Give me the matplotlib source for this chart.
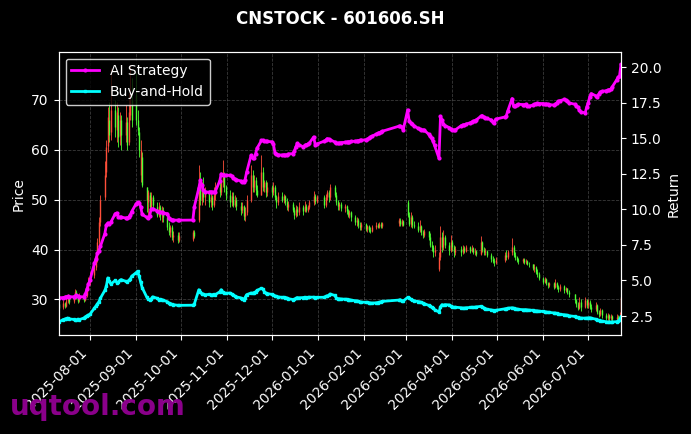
import matplotlib
matplotlib.use("Agg")
import matplotlib.pyplot as plt
import matplotlib.dates as mdates
import numpy as np
import pandas as pd

title = "CNSTOCK - 601606.SH"

# trading calendar (weekdays minus exchange holidays)
holidays = [
    "2025-10-01", "2025-10-02", "2025-10-03", "2025-10-06", "2025-10-07", "2025-10-08",
    "2026-01-01", "2026-01-02",
    "2026-02-16", "2026-02-17", "2026-02-18", "2026-02-19", "2026-02-20", "2026-02-23",
    "2026-04-06", "2026-05-01", "2026-05-04", "2026-05-05", "2026-06-19",
]
dates = pd.bdate_range("2025-07-11", "2026-07-23")
dates = dates[~dates.isin(pd.to_datetime(holidays))]

# daily OHLC, one line per month
opens = [
    29.0, 28.4, 29.2, 28.7, 29.6, 30.3, 29.6, 30.2, 31.4, 30.5, 29.8, 30.6, 29.9, 30.8, 32.0,
    33.4, 34.9, 36.5, 38.2, 41.6, 45.5, 50.5, 55.5, 60.8, 66.0, 63.5, 68.0, 64.0, 67.0, 62.8, 66.0, 63.0, 65.5, 61.5, 67.0, 70.0,
    71.0, 66.0, 63.5, 55.0, 58.5, 52.5, 49.5, 51.0, 48.5, 50.5, 48.5, 47.0, 48.5, 47.0, 48.0, 46.5, 44.5, 43.5, 44.5, 42.5, 43.0, 42.0,
    42.2, 43.5, 46.0, 52.5, 50.0, 52.0, 50.5, 51.5, 49.5, 50.5, 49.0, 51.0, 52.5, 51.5, 53.5, 55.0, 52.5,
    51.0, 49.5, 50.8, 49.0, 50.0, 48.8, 48.0, 48.8, 46.8, 47.5, 50.0, 55.0, 52.5, 54.0, 52.0, 51.0, 55.5, 52.5, 53.5, 51.5,
    52.5, 51.5, 52.5, 50.5, 49.5, 50.8, 50.0, 50.8, 49.5, 48.5, 49.2, 48.0, 47.0, 48.2, 47.5, 48.5, 47.8, 48.8, 48.0, 48.6, 49.5, 50.8, 49.8,
    50.5, 49.0, 50.5, 51.5, 50.5, 52.5, 51.0, 49.5, 48.8, 49.2, 48.3, 48.8, 47.8, 47.0, 47.6, 46.5, 45.5, 46.0, 45.0, 44.5,
    45.2, 44.2, 44.8, 44.0, 43.8, 44.5, 45.0, 44.6, 45.2, 44.8, 45.3, 46.0, 45.2, 45.8,
    49.5, 47.0, 45.2, 46.5, 45.0, 44.8, 44.0, 44.8, 43.5, 43.0, 43.8, 42.5, 41.0, 40.5, 39.5, 36.0, 38.5, 42.5, 40.5, 42.5, 41.0, 40.0,
    41.5, 40.5, 39.5, 40.2, 39.5, 40.3, 39.8, 40.5, 39.8, 40.4, 39.6, 39.8, 39.2, 41.5, 40.0, 39.5, 39.8, 39.0, 38.2, 37.8, 37.5,
    38.0, 39.0, 38.5, 39.5, 40.5, 39.0, 38.5, 38.0, 37.8, 38.2, 37.5, 37.8, 37.2, 37.0, 36.2, 36.5, 35.5, 35.0,
    34.2, 33.5, 34.0, 33.2, 32.8, 33.2, 32.5, 33.3, 32.5, 32.0, 32.6, 31.8, 32.2, 31.5, 31.0, 29.8, 29.0, 28.3, 29.5, 28.5, 29.8,
    28.8, 29.5, 28.5, 28.0, 28.8, 27.5, 27.0, 27.8, 26.8, 26.3, 26.8, 26.2, 26.6, 26.0, 26.5, 26.0, 26.8,
]
closes = [
    28.3, 29.3, 28.6, 29.6, 30.4, 29.5, 30.3, 31.5, 30.5, 29.7, 30.6, 29.9, 30.8, 32.0, 33.5,
    34.8, 36.5, 38.0, 41.5, 45.5, 50.0, 55.0, 60.5, 66.5, 63.0, 68.0, 64.5, 67.5, 62.5, 66.0, 63.0, 65.5, 61.0, 67.5, 70.5, 66.0,
    66.0, 64.0, 60.0, 60.0, 53.0, 50.0, 51.5, 48.5, 50.5, 49.0, 47.0, 48.8, 47.0, 48.0, 46.5, 44.5, 43.5, 44.5, 42.5, 43.0, 42.0, 42.8,
    43.5, 42.8, 52.5, 50.0, 52.0, 50.5, 51.5, 49.5, 50.5, 49.0, 51.0, 52.5, 51.5, 53.5, 55.0, 52.5, 51.0,
    49.5, 50.8, 49.0, 50.0, 48.8, 48.0, 48.8, 46.8, 47.5, 50.0, 55.0, 52.5, 54.0, 52.0, 51.0, 55.5, 52.5, 53.5, 51.5, 52.5,
    51.5, 52.5, 50.5, 49.5, 50.8, 50.0, 50.8, 49.5, 48.5, 49.2, 48.0, 47.0, 48.2, 47.5, 48.5, 47.8, 48.8, 48.0, 48.6, 49.5, 50.8, 49.8, 50.5,
    49.0, 50.5, 51.5, 50.5, 52.5, 51.0, 49.5, 48.8, 49.2, 48.3, 48.8, 47.8, 47.0, 47.6, 46.5, 45.5, 46.0, 45.0, 44.5, 45.2,
    44.2, 44.8, 44.0, 43.8, 44.5, 45.0, 44.6, 45.2, 44.8, 45.3, 46.0, 45.2, 45.8, 45.0,
    47.0, 45.2, 46.5, 45.0, 44.8, 44.0, 44.8, 43.5, 43.0, 43.8, 42.5, 41.0, 40.5, 39.5, 40.0, 38.5, 42.5, 40.5, 42.5, 41.0, 40.0, 41.5,
    40.5, 39.5, 40.2, 39.5, 40.3, 39.8, 40.5, 39.8, 40.4, 39.6, 39.8, 39.2, 41.5, 40.0, 39.5, 39.8, 39.0, 38.2, 37.8, 37.5, 38.0,
    39.0, 38.5, 39.5, 40.5, 39.0, 38.5, 38.0, 37.8, 38.2, 37.5, 37.8, 37.2, 37.0, 36.2, 36.5, 35.5, 35.0, 34.2,
    33.5, 34.0, 33.2, 32.8, 33.2, 32.5, 33.3, 32.5, 32.0, 32.6, 31.8, 32.2, 31.5, 31.0, 29.8, 29.0, 28.3, 29.5, 28.5, 29.8, 28.8,
    29.5, 28.5, 28.0, 28.8, 27.5, 27.0, 27.8, 26.8, 26.3, 26.8, 26.2, 26.6, 26.0, 26.5, 26.0, 26.8, 30.5,
]
highs = [
    29.6, 29.8, 29.5, 30.2, 31.0, 30.6, 30.9, 32.0, 31.8, 30.8, 31.2, 31.0, 31.4, 32.6, 34.5,
    35.5, 37.8, 39.5, 42.3, 46.5, 51.0, 57.8, 62.0, 68.5, 69.5, 76.5, 70.0, 69.5, 68.5, 67.5, 67.0, 69.0, 66.5, 71.5, 77.0, 74.5,
    75.5, 68.0, 64.5, 62.0, 59.5, 52.5, 52.0, 51.5, 51.5, 51.0, 49.5, 49.5, 49.0, 48.8, 48.5, 47.0, 45.5, 45.0, 45.0, 43.8, 43.5, 43.5,
    44.0, 44.0, 57.0, 55.5, 53.5, 54.5, 52.5, 52.0, 51.5, 51.0, 52.5, 53.5, 53.5, 54.0, 58.0, 55.5, 53.0,
    52.0, 51.5, 51.5, 51.0, 50.5, 49.5, 49.5, 49.0, 48.5, 51.0, 57.0, 56.0, 55.0, 54.5, 53.0, 59.0, 56.5, 54.0, 54.0, 53.5,
    53.0, 53.5, 53.0, 51.0, 51.5, 51.5, 51.2, 51.0, 50.4, 49.8, 49.5, 48.5, 49.0, 48.8, 49.5, 49.0, 49.7, 49.2, 49.0, 50.0, 51.7, 51.2, 51.0,
    51.0, 51.2, 52.0, 52.0, 53.2, 53.0, 51.5, 50.0, 49.5, 49.5, 49.2, 49.0, 48.2, 48.0, 47.8, 47.0, 46.5, 46.3, 45.5, 45.6,
    45.3, 45.0, 45.0, 44.5, 45.0, 45.5, 45.4, 45.5, 45.5, 45.5, 46.4, 46.3, 46.2, 46.0,
    50.0, 47.5, 47.5, 47.0, 45.8, 45.5, 46.0, 45.0, 44.0, 44.2, 43.8, 43.3, 41.8, 41.0, 41.0, 39.6, 44.7, 43.5, 44.0, 43.0, 41.5, 43.0,
    42.0, 41.0, 40.8, 40.8, 41.0, 40.7, 41.0, 40.8, 40.9, 40.6, 40.3, 40.0, 42.7, 41.8, 40.6, 40.3, 40.0, 39.4, 38.7, 38.3, 38.5,
    39.5, 40.0, 40.0, 42.3, 41.0, 39.5, 38.8, 38.3, 38.4, 38.3, 38.2, 38.0, 37.5, 37.2, 37.0, 36.7, 36.0, 35.5,
    34.5, 34.5, 34.2, 33.5, 33.5, 33.4, 34.0, 33.5, 32.8, 33.0, 32.8, 32.5, 32.3, 31.8, 31.0, 30.0, 29.5, 30.5, 30.0, 30.5, 30.0,
    30.0, 29.8, 29.0, 29.5, 29.0, 27.8, 28.2, 28.0, 27.2, 27.3, 27.0, 27.0, 26.8, 27.0, 26.8, 27.5, 32.3,
]
lows = [
    27.8, 28.0, 28.2, 28.5, 29.2, 29.0, 29.3, 30.0, 30.1, 29.3, 29.5, 29.4, 29.7, 30.5, 31.8,
    32.9, 34.2, 35.8, 37.5, 41.0, 44.8, 50.0, 54.5, 59.5, 61.5, 62.0, 62.5, 61.5, 60.5, 61.0, 60.0, 61.5, 60.0, 61.0, 66.0, 64.5,
    65.0, 63.0, 58.5, 53.5, 52.5, 47.5, 47.0, 46.5, 48.0, 48.0, 46.5, 46.5, 46.0, 45.5, 45.5, 44.0, 43.0, 42.5, 42.0, 41.5, 41.3, 41.5,
    41.8, 42.3, 45.5, 49.0, 49.0, 49.5, 49.0, 48.5, 48.5, 48.0, 48.5, 50.0, 50.5, 51.0, 52.5, 51.5, 50.0,
    48.5, 48.8, 48.5, 48.5, 48.0, 47.0, 47.3, 46.0, 45.7, 47.0, 49.5, 51.5, 51.5, 51.0, 50.5, 51.0, 51.7, 51.5, 50.5, 50.8,
    50.5, 51.0, 50.0, 48.4, 49.0, 49.5, 49.3, 49.0, 48.0, 47.7, 47.5, 46.2, 46.5, 46.8, 47.0, 47.0, 47.5, 47.5, 47.6, 48.2, 49.0, 49.2, 49.3,
    48.4, 48.6, 50.0, 49.5, 50.0, 50.5, 49.0, 48.0, 48.0, 47.7, 47.5, 47.2, 46.5, 46.3, 45.8, 45.0, 44.8, 44.3, 44.0, 44.0,
    43.8, 43.6, 43.5, 43.4, 43.5, 44.2, 44.3, 44.4, 44.3, 44.4, 44.8, 44.8, 44.7, 44.7,
    46.5, 44.7, 44.5, 44.3, 44.3, 43.5, 43.6, 43.0, 42.3, 42.5, 42.0, 40.5, 39.8, 38.6, 38.8, 35.6, 38.0, 39.5, 40.0, 40.3, 39.0, 39.5,
    39.8, 38.6, 39.0, 38.8, 39.2, 39.3, 39.5, 39.4, 39.5, 39.2, 39.0, 38.8, 39.0, 39.5, 39.0, 39.0, 38.5, 37.6, 37.3, 36.6, 37.0,
    37.6, 38.0, 38.2, 39.0, 38.5, 38.0, 37.5, 37.2, 37.3, 37.0, 37.2, 36.8, 36.5, 35.8, 35.5, 35.0, 34.5, 33.8,
    33.0, 33.2, 32.8, 32.3, 32.4, 32.0, 32.2, 32.0, 31.5, 31.6, 31.3, 31.4, 31.0, 30.5, 29.3, 28.4, 27.8, 28.0, 27.6, 28.2, 28.3,
    28.2, 28.0, 27.5, 27.6, 27.0, 26.5, 26.6, 26.3, 25.8, 25.9, 25.7, 25.8, 25.6, 25.7, 25.6, 25.8, 26.5,
]

# cumulative return curves
ai_strategy = [
    3.78, 3.80, 3.82, 3.85, 3.88, 3.86, 3.85, 3.88, 3.95, 3.90, 3.86, 3.85, 4.05, 4.40, 4.75,
    5.00, 6.20, 6.50, 6.90, 7.10, 7.40, 8.30, 8.90, 9.05, 9.00, 9.10, 9.70, 9.75, 9.50, 9.45, 9.45, 9.40, 9.40, 9.45, 9.60, 9.85,
    10.40, 10.50, 10.45, 10.20, 9.65, 9.45, 9.40, 9.55, 10.00, 10.05, 9.90, 9.85, 9.80, 9.80, 9.75, 9.70, 9.40, 9.30, 9.28, 9.25, 9.24, 9.24,
    9.25, 10.20, 11.50, 12.05, 11.70, 11.40, 11.25, 11.20, 11.25, 11.20, 11.22, 11.25, 12.00, 12.50, 12.40, 12.42, 12.40,
    12.40, 12.35, 12.20, 12.15, 12.10, 12.00, 11.95, 11.90, 12.10, 12.60, 13.80, 13.65, 13.60, 13.90, 14.30, 14.85, 14.85, 14.80, 14.80, 14.78,
    14.76, 14.60, 14.00, 13.90, 13.85, 13.82, 13.85, 13.82, 13.85, 13.90, 13.93, 14.10, 14.40, 14.64, 14.55, 14.40, 14.50, 14.55, 14.60, 14.65, 15.10, 14.55, 14.60,
    14.80, 14.85, 14.98, 14.95, 14.90, 14.75, 14.70, 14.64, 14.66, 14.70, 14.72, 14.74, 14.75, 14.76, 14.78, 14.80, 14.82, 14.84, 14.85, 14.87,
    14.90, 14.95, 15.00, 15.10, 15.15, 15.30, 15.35, 15.40, 15.45, 15.50, 15.85, 15.86, 15.80, 15.60,
    17.00, 16.20, 16.10, 16.00, 15.90, 15.70, 15.65, 15.60, 15.60, 15.58, 15.30, 15.15, 15.00, 14.80, 14.50, 13.60, 16.55, 16.30, 16.00, 15.90, 15.75, 15.65,
    15.60, 15.58, 15.60, 15.90, 15.95, 15.95, 16.00, 16.10, 16.15, 16.20, 16.25, 16.30, 16.55, 16.60, 16.50, 16.45, 16.40, 16.30, 16.15, 16.10, 16.35,
    16.50, 16.55, 16.90, 17.80, 17.25, 17.30, 17.35, 17.40, 17.38, 17.35, 17.40, 17.30, 17.25, 17.35, 17.40, 17.45, 17.46, 17.45,
    17.45, 17.40, 17.42, 17.40, 17.38, 17.34, 17.40, 17.50, 17.60, 17.65, 17.74, 17.70, 17.60, 17.50, 17.40, 17.30, 17.20, 17.00, 16.85, 16.80, 17.20,
    17.50, 17.90, 18.15, 18.00, 17.90, 18.10, 18.25, 18.30, 18.35, 18.40, 18.42, 18.45, 18.60, 19.10, 19.30, 19.40, 20.20,
]
buy_and_hold = [
    2.07, 2.25, 2.28, 2.32, 2.36, 2.30, 2.26, 2.22, 2.24, 2.28, 2.25, 2.36, 2.45, 2.52, 2.58,
    2.62, 3.05, 3.20, 3.35, 3.50, 3.75, 4.30, 4.60, 5.18, 4.95, 4.75, 5.00, 4.85, 4.90, 5.00, 5.06, 4.94, 4.90, 5.00, 5.10, 5.30,
    5.55, 5.65, 5.30, 4.90, 4.50, 3.85, 3.70, 3.65, 3.70, 3.85, 3.75, 3.65, 3.68, 3.66, 3.62, 3.50, 3.41, 3.38, 3.32, 3.30, 3.25, 3.25,
    3.26, 3.35, 4.35, 4.20, 4.05, 4.05, 4.00, 4.02, 4.00, 4.00, 4.02, 4.00, 4.20, 4.35, 4.20, 4.12, 4.10,
    4.12, 4.05, 4.00, 3.92, 3.85, 3.78, 3.72, 3.65, 3.80, 4.00, 4.12, 4.10, 4.15, 4.20, 4.30, 4.45, 4.40, 4.20, 4.12, 4.08,
    4.02, 3.98, 3.92, 3.88, 3.85, 3.81, 3.82, 3.80, 3.78, 3.72, 3.66, 3.68, 3.74, 3.80, 3.78, 3.80, 3.82, 3.80, 3.81, 3.82, 3.83, 3.80, 3.81,
    3.82, 3.88, 3.92, 3.95, 4.05, 3.95, 3.80, 3.72, 3.72, 3.70, 3.69, 3.68, 3.66, 3.65, 3.62, 3.58, 3.56, 3.53, 3.50, 3.48,
    3.47, 3.46, 3.44, 3.42, 3.41, 3.43, 3.45, 3.47, 3.50, 3.53, 3.62, 3.65, 3.58, 3.55,
    3.81, 3.75, 3.68, 3.62, 3.58, 3.52, 3.50, 3.46, 3.42, 3.38, 3.25, 3.18, 3.12, 3.05, 2.95, 2.78, 3.15, 3.30, 3.25, 3.30, 3.28, 3.20,
    3.15, 3.11, 3.12, 3.08, 3.06, 3.06, 3.08, 3.10, 3.12, 3.10, 3.12, 3.14, 3.18, 3.15, 3.08, 3.02, 2.98, 2.93, 2.90, 2.87, 2.90,
    3.00, 3.02, 3.05, 3.08, 3.06, 3.02, 3.00, 2.97, 2.95, 2.94, 2.95, 2.93, 2.92, 2.90, 2.88, 2.87, 2.86, 2.84,
    2.82, 2.80, 2.78, 2.76, 2.75, 2.72, 2.71, 2.68, 2.65, 2.62, 2.59, 2.57, 2.55, 2.52, 2.47, 2.44, 2.40, 2.38, 2.36, 2.35, 2.36,
    2.36, 2.38, 2.35, 2.28, 2.24, 2.20, 2.18, 2.15, 2.10, 2.08, 2.08, 2.07, 2.08, 2.10, 2.15, 2.20, 2.45,
]

opens = np.array(opens)
closes = np.array(closes)
up = closes >= opens
candle_colors = np.where(up, "#ff4f3a", "#4dff33")

fig, ax = plt.subplots(figsize=(6.91, 4.34), dpi=100)
fig.patch.set_facecolor("black")
ax.set_facecolor("black")
fig.subplots_adjust(left=0.0848, right=0.8987, top=0.881, bottom=0.227)

# candles: thin wick + slightly wider body
ax.vlines(dates, lows, highs, colors=candle_colors, linewidth=0.6)
ax.vlines(dates, np.minimum(opens, closes), np.maximum(opens, closes),
          colors=candle_colors, linewidth=1.0)
ax.set_ylim(22.76, 79.7)
ax.set_xlim(dates[0], dates[-1])
ax.set_ylabel("Price", color="white")
ax.grid(True, linestyle="--", color="gray", alpha=0.45, linewidth=0.6)

ax2 = ax.twinx()
ax2.plot(dates, ai_strategy, color="#ff00ff", linewidth=2, marker="o",
         markersize=2, label="AI Strategy")
ax2.plot(dates, buy_and_hold, color="#00ffff", linewidth=2, marker="s",
         markersize=2, label="Buy-and-Hold")
ax2.set_ylim(1.13, 21.1)
ax2.set_ylabel("Return", color="white")

ax.xaxis.set_major_locator(mdates.MonthLocator())
ax.xaxis.set_major_formatter(mdates.DateFormatter("%Y-%m-%d"))
plt.setp(ax.get_xticklabels(), rotation=45, ha="right")

for a in (ax, ax2):
    a.tick_params(colors="white", labelsize=10)
    for sp in a.spines.values():
        sp.set_color("white")

ax.set_title(title, color="white", fontsize=12, fontweight="bold", pad=20)

leg = ax2.legend(loc="upper left", facecolor="black", edgecolor="white",
                 fontsize=10)
for t in leg.get_texts():
    t.set_color("white")

# watermark
fig.text(0.015, 0.044, "uqtool.com", fontsize=20, fontweight="bold",
         color="#8a008a", zorder=10)

fig.savefig("out.png", dpi=100, facecolor="black")
